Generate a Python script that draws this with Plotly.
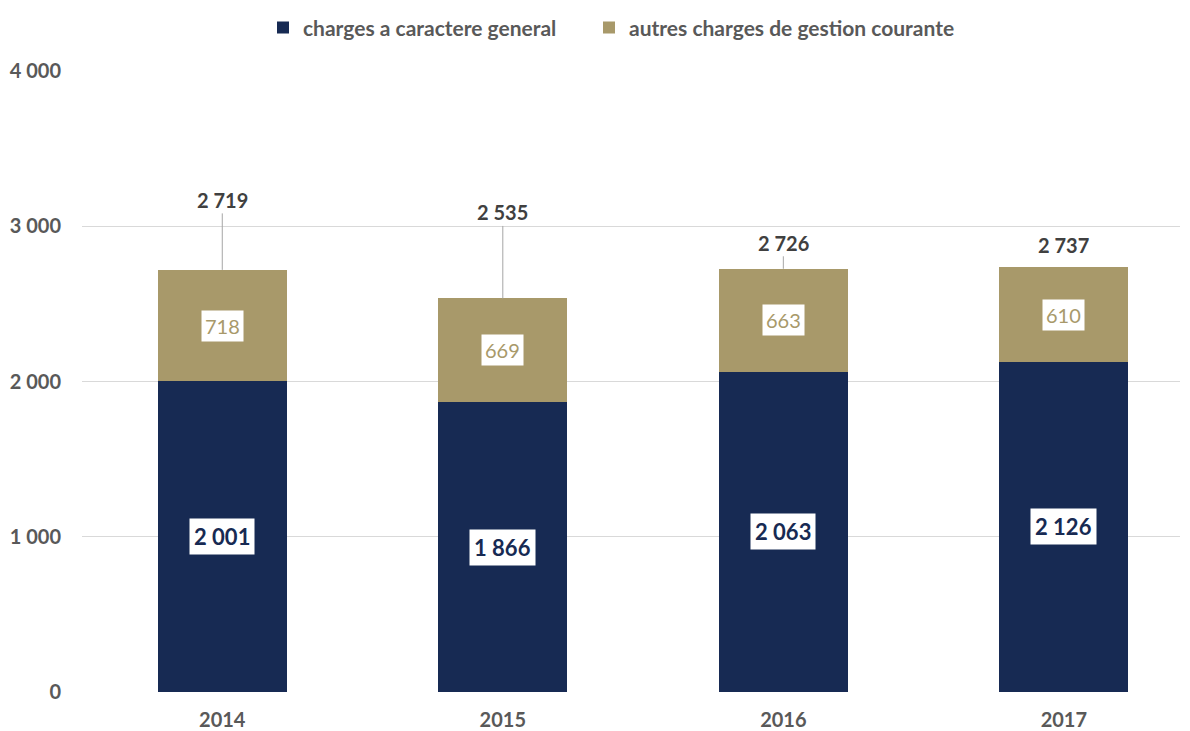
import plotly.graph_objects as go

years = ["2014", "2015", "2016", "2017"]
charges_generales = [2001, 1866, 2063, 2126]
autres_charges = [718, 669, 663, 610]
totals = [2719, 2535, 2726, 2737]
y_ticks = [0, 1000, 2000, 3000, 4000]

NAVY = "#172A53"
TAN = "#A8996A"
FONT = "Lato"

def fmt(v):
    return f"{v:,}".replace(",", " ")

fig = go.Figure()
fig.add_trace(go.Bar(x=years, y=charges_generales, name="charges a caractere general",
                     marker=dict(color=NAVY, line=dict(width=0)), width=0.46, legend="legend"))
fig.add_trace(go.Bar(x=years, y=autres_charges, name="autres charges de gestion courante",
                     marker=dict(color=TAN, line=dict(width=0)), width=0.46, legend="legend2"))

annotations = []
for i, yr in enumerate(years):
    a = charges_generales[i]
    b = autres_charges[i]
    annotations.append(dict(x=i, y=a / 2, text=fmt(a), showarrow=False,
                            font=dict(family=FONT, size=22, color=NAVY, weight="bold"),
                            bgcolor="white", borderpad=4))
    annotations.append(dict(x=i, y=a + b / 2, text=fmt(b), showarrow=False,
                            font=dict(family=FONT, size=20, color=TAN),
                            bgcolor="white", borderpad=3))

# total labels with leader lines (label offsets in pixels)
label_offsets = [-70, -86, -26, -22]
leader = [True, True, True, False]
for i, yr in enumerate(years):
    tfont = dict(family=FONT, size=20, color="#404040", weight="bold")
    if leader[i]:
        annotations.append(dict(x=i, y=totals[i], text=fmt(totals[i]), showarrow=True,
                                arrowhead=0, arrowwidth=1, arrowcolor="#A6A6A6",
                                ax=0, ay=label_offsets[i], standoff=0, font=tfont))
    else:
        annotations.append(dict(x=i, y=totals[i], text=fmt(totals[i]), showarrow=False,
                                yshift=-label_offsets[i], font=tfont))

legend_font = dict(family=FONT, size=21, color="#595959", weight="bold")
fig.update_layout(
    barmode="stack",
    width=1190, height=731,
    margin=dict(l=82, r=10, t=71, b=39, autoexpand=False),
    plot_bgcolor="white", paper_bgcolor="white",
    font=dict(family=FONT, color="#595959"),
    legend=dict(orientation="h", x=263 / 1190, xref="container", xanchor="left",
                y=0.99, yanchor="top", yref="container",
                font=legend_font, itemwidth=30),
    legend2=dict(orientation="h", x=589 / 1190, xref="container", xanchor="left",
                 y=0.99, yanchor="top", yref="container",
                 font=legend_font, itemwidth=30),
    annotations=annotations,
    showlegend=True,
)
fig.update_xaxes(type="category", range=[-0.5, 3.414], showgrid=False, showline=False,
                 zeroline=False, automargin=False,
                 tickfont=dict(family=FONT, size=20, color="#595959", weight="bold"),
                 ticks="", ticklabelstandoff=14)
fig.update_yaxes(range=[0, 4000], tickvals=y_ticks, ticktext=[fmt(v) for v in y_ticks],
                 showgrid=True, gridcolor="#D9D9D9", gridwidth=1, zeroline=False, showline=False,
                 automargin=False,
                 tickfont=dict(family=FONT, size=20, color="#595959", weight="bold"),
                 ticks="", ticklabelstandoff=20)

fig.write_html("out.html")
